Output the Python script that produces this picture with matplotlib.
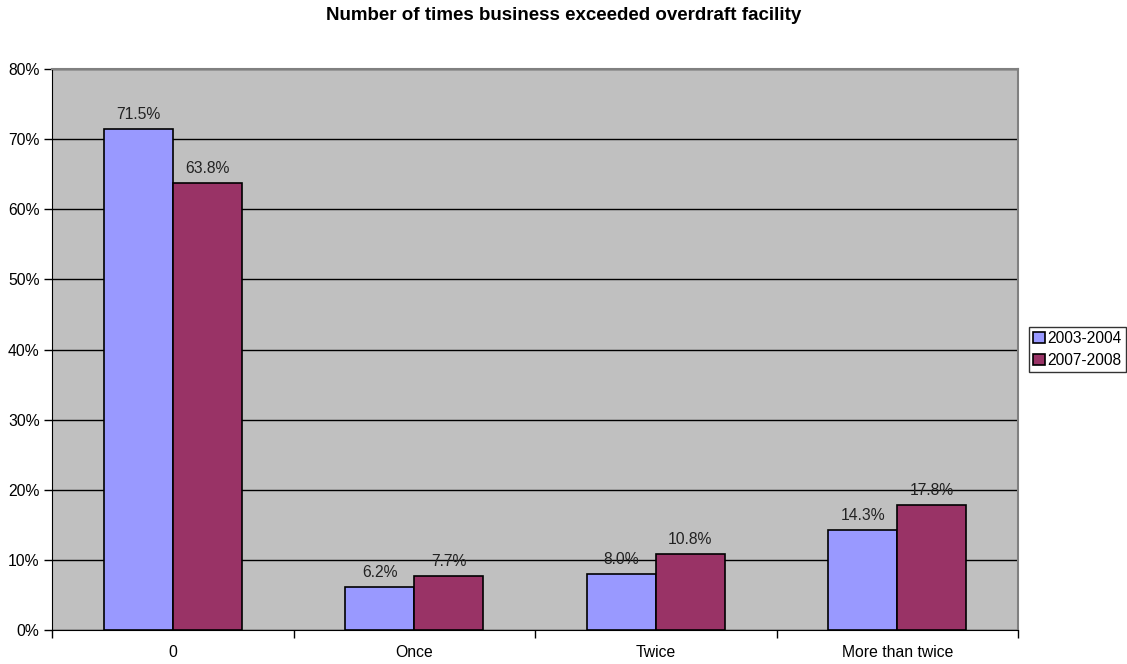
import numpy as np
import matplotlib
matplotlib.use('Agg')
import matplotlib.pyplot as plt
from matplotlib.ticker import FuncFormatter

plt.rcParams['font.family'] = ['Liberation Sans', 'DejaVu Sans']

categories = ['0', 'Once', 'Twice', 'More than twice']
series_names = ['2003-2004', '2007-2008']
vals_2003 = [71.5, 6.2, 8.0, 14.3]
vals_2007 = [63.8, 7.7, 10.8, 17.8]
colors = ['#9999FF', '#993366']

fig = plt.figure(figsize=(11.27, 6.64), dpi=100)
ax = fig.add_axes([52/1127, 1-630/664, (1018-52)/1127, (630-69)/664])
ax.set_facecolor('#C0C0C0')

x = np.arange(len(categories))
w = 0.285
for i, (vals, name) in enumerate(zip([vals_2003, vals_2007], series_names)):
    pos = x + (i - 0.5) * w
    bars = ax.bar(pos, vals, w, color=colors[i], edgecolor='black', linewidth=1.2,
                  label=name, zorder=3)
    for b, v in zip(bars, vals):
        ax.text(b.get_x() + b.get_width()/2, v + 1.0, '%.1f%%' % v,
                ha='center', va='bottom', fontsize=11.3, color='#222222')

ax.set_xlim(-0.5, len(categories) - 0.5)
ax.set_ylim(0, 80)
ax.set_yticks(np.arange(0, 81, 10))
ax.yaxis.set_major_formatter(FuncFormatter(lambda v, p: '%d%%' % v))
ax.yaxis.grid(True, color='black', linewidth=1.0, zorder=1)
ax.set_axisbelow(True)

# category labels centred, ticks between categories
ax.set_xticks(np.arange(-0.5, len(categories), 1.0))
ax.set_xticklabels([])
ax.set_xticks(x, minor=True)
ax.set_xticklabels(categories, minor=True, fontsize=11.3)
ax.tick_params(axis='x', which='minor', length=0, pad=11)
ax.tick_params(axis='x', which='major', length=6, width=1, direction='out')
ax.tick_params(axis='y', length=6, width=1, direction='out', labelsize=11.3, pad=3)

for s in ['top', 'right']:
    ax.spines[s].set_color('#808080')
    ax.spines[s].set_linewidth(1.5)
ax.spines['left'].set_color('black')
ax.spines['bottom'].set_color('black')

fig.text(0.5, 1-15/664, 'Number of times business exceeded overdraft facility',
         ha='center', va='center', fontsize=13.5, fontweight='bold')

leg = fig.legend(loc='upper left', bbox_to_anchor=(1029/1127, 1-327/664),
                 fontsize=11.2, frameon=True, fancybox=False, handlelength=0.75,
                 handleheight=0.75, handletextpad=0.2, borderpad=0.25,
                 labelspacing=0.45, borderaxespad=0)
leg.get_frame().set_edgecolor('black')
leg.get_frame().set_linewidth(1.0)

fig.savefig('out.png', dpi=100)
